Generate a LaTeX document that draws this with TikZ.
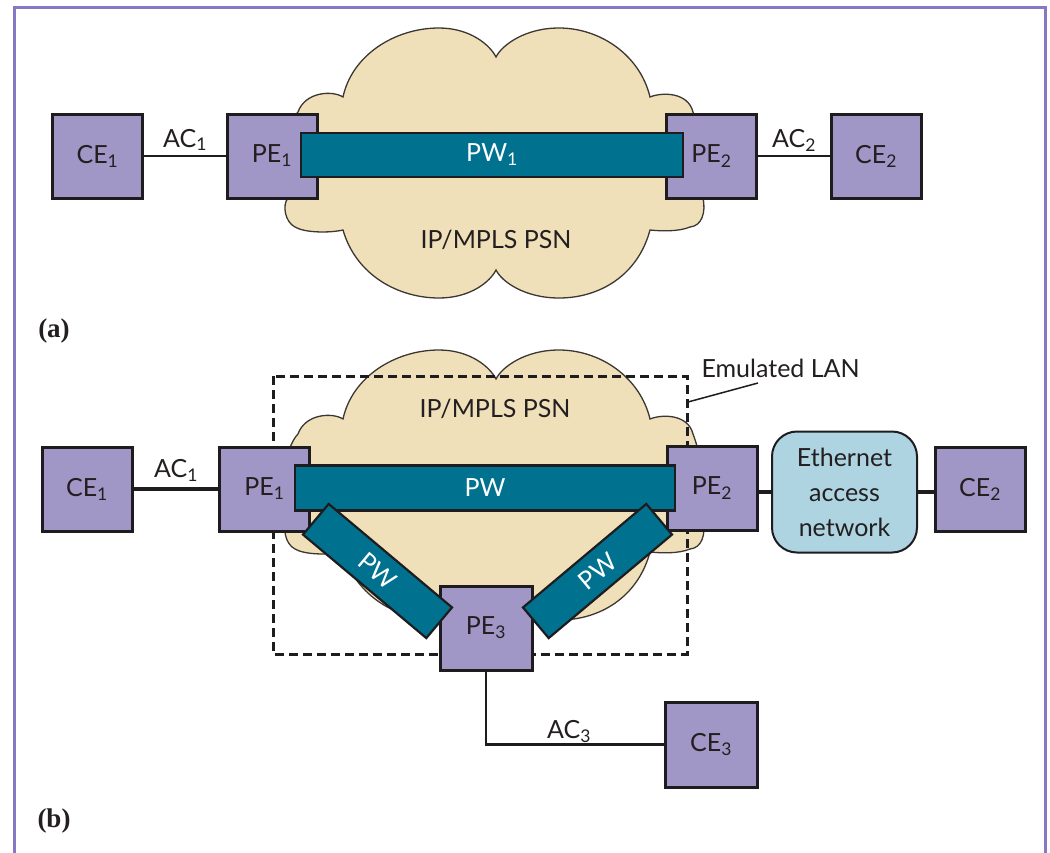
\documentclass[tikz,border=0pt]{standalone}
\usepackage{fontspec}
\setmainfont{Lato}
\newfontfamily\panelfont{Liberation Serif}
\definecolor{framec}{RGB}{134,120,194}
\definecolor{boxc}{RGB}{160,151,199}
\definecolor{pwc}{RGB}{0,114,143}
\definecolor{cloudc}{RGB}{240,224,186}
\definecolor{cloudline}{RGB}{60,55,50}
\definecolor{ethc}{RGB}{173,212,224}
\definecolor{linec}{RGB}{30,28,30}
\definecolor{textc}{RGB}{35,31,32}
\newcommand\drawcloud[1]{%
\path[cloudst,shift={(0,#1)}] (343,97) .. controls (352,55) and (395,28) .. (439,28)
  .. controls (470,28) and (490,45) .. (496,57)
  .. controls (502,45) and (525,28) .. (559,28)
  .. controls (600,28) and (640,55) .. (650,97)
  .. controls (662,92) and (688,92) .. (693,112)
  .. controls (700,130) and (712,180) .. (703,198)
  .. controls (706,212) and (702,226) .. (690,227)
  .. controls (678,232) and (660,231) .. (650,230)
  .. controls (638,275) and (600,298) .. (559,298)
  .. controls (525,298) and (502,282) .. (496,270)
  .. controls (490,282) and (470,298) .. (439,298)
  .. controls (398,298) and (356,275) .. (343,230)
  .. controls (330,233) and (305,233) .. (295,227)
  .. controls (285,222) and (282,205) .. (288,198)
  .. controls (278,170) and (285,125) .. (298,112)
  .. controls (305,92) and (332,90) .. (343,97) -- cycle;}
\begin{document}
\begin{tikzpicture}[x=1pt,y=-1pt,
  every node/.style={font=\fontsize{25}{35}\selectfont, text=textc},
  box/.style={draw=linec, line width=3, fill=boxc, minimum width=90, minimum height=84, inner sep=0},
  pw/.style={draw=linec, line width=2.2, fill=pwc, text=white, inner sep=0},
  link/.style={draw=linec, line width=2},
  thicklink/.style={draw=linec, line width=4.5},
  cloudst/.style={draw=cloudline, line width=1.3, fill=cloudc},
  lanbox/.style={draw=linec, line width=3, dash pattern=on 9pt off 5pt},
  ethbox/.style={draw=linec, line width=2, fill=ethc, rounded corners=25, minimum width=145, minimum height=121, align=center, inner sep=0},
  panel/.style={font=\panelfont\bfseries\fontsize{27}{27}\selectfont, text=textc}
]
\useasboundingbox (0,0) rectangle (1050,852);
\fill[white] (0,0) rectangle (1050,852);
\draw[framec, line width=3] (14,870) -- (14,7) -- (1045,7) -- (1045,870);

% ---------- (a) ----------
\drawcloud{0}
\node[box] (ce1a) at (97.5,156) {CE\textsubscript{1}};
\node[box] (pe1a) at (272,156) {PE\textsubscript{1}};
\node[box] (pe2a) at (711.5,156) {PE\textsubscript{2}};
\node[box] (ce2a) at (876,156) {CE\textsubscript{2}};
\draw[link] (ce1a) -- (pe1a);
\draw[link] (pe2a) -- (ce2a);
\node[pw, minimum width=382, minimum height=44] (pw1) at (492,155) {PW\textsubscript{1}};
\node[anchor=base] (ac1a) at (185,147) {AC\textsubscript{1}};
\node[anchor=base] (ac2a) at (794,147) {AC\textsubscript{2}};
\node[anchor=base] (psna) at (496,248) {IP/MPLS PSN};
\node[panel, anchor=base] (laba) at (54,337) {(a)};

% ---------- (b) ----------
\drawcloud{322}
\draw[lanbox] (273,376) rectangle (687,654);
\node[anchor=base west] (elan) at (698,377) {Emulated LAN};
\coordinate (lanpt) at (688,402);
\coordinate (lanend) at (758,383);
\draw[draw=linec, line width=1.5] (lanpt) -- (lanend);

\node[box] (ce1b) at (87,489) {CE\textsubscript{1}};
\node[box] (pe1b) at (264.5,489) {PE\textsubscript{1}};
\node[box] (pe2b) at (712,488) {PE\textsubscript{2}};
\node[ethbox] (eth) at (844.5,492) {Ethernet\\access\\network};
\node[box] (ce2b) at (980,489) {CE\textsubscript{2}};
\node[box, minimum width=92] (pe3) at (486,628) {PE\textsubscript{3}};
\node[box, minimum width=92, minimum height=85] (ce3) at (711,744.5) {CE\textsubscript{3}};

\draw[thicklink] (ce1b) -- (pe1b);
\draw[thicklink] (pe2b.east |- eth.west) -- (eth.west);
\draw[thicklink] (eth.east) -- (eth.east -| ce2b.west);
\draw[draw=linec, line width=2.5] (pe3.south) |- (ce3.west);

\node[pw, minimum width=380, minimum height=45] (pwh) at (485,488) {PW};
\node[pw, minimum width=161, minimum height=40, rotate=-40] (pwl) at (377.5,571) {PW};
\node[pw, minimum width=161, minimum height=40, rotate=40] (pwr) at (597.5,571) {PW};

\node[anchor=base] (psnb) at (495,417) {IP/MPLS PSN};
\node[anchor=base] (ac1b) at (176,477) {AC\textsubscript{1}};
\node[anchor=base] (ac3) at (569,738) {AC\textsubscript{3}};
\node[panel, anchor=base] (labb) at (54,827) {(b)};
\end{tikzpicture}
\end{document}
